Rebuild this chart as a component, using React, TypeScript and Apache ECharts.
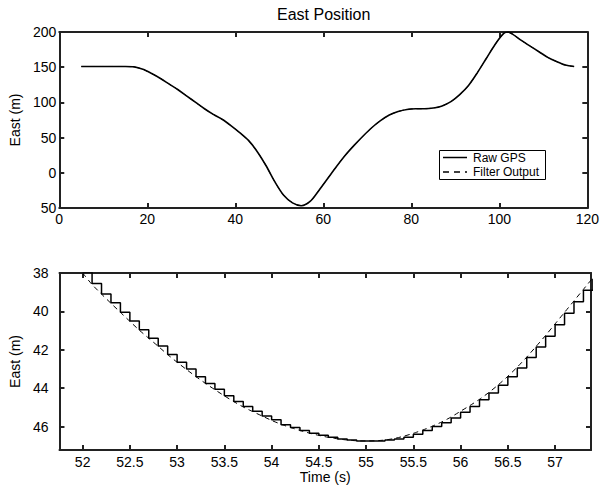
import React, { useEffect, useRef } from "react";
import * as echarts from "echarts";

// ---- Top panel: East position over the whole run ----
const TOP_TIME = [5, 10, 15, 17, 19, 21, 23, 25, 27, 29, 31, 33, 35, 37, 39, 41, 43, 45, 47, 49, 51, 53, 55, 57, 59, 61, 63, 65, 67, 69, 71, 73, 75, 77, 79, 81, 83, 85, 87, 89, 91, 93, 95, 97, 99, 101, 102, 103, 105, 107, 109, 111, 113, 115, 117];
const TOP_RAW = [151, 151, 151, 150.5, 147, 141, 134, 126, 118, 109, 100, 91, 83, 76, 67, 57, 46, 30, 10, -13, -32, -42.7, -46.75, -40.7, -25, -8, 9, 25, 39, 52, 64, 74, 82, 87, 90, 91, 91, 92, 95, 101, 111, 124, 142, 162, 182, 198, 200, 197, 188, 180, 172, 164, 158, 153, 151];
const TOP_FILTER = [151, 151, 151, 150.4, 147, 141, 134, 126, 118, 109, 100, 91, 83, 76, 67, 57, 46, 30, 10, -13, -32, -42.6, -46.7, -40.6, -25, -8, 9, 25, 39, 52, 64, 74, 82, 87, 90, 91, 91, 92, 95, 101, 111, 124, 142, 162, 182, 198, 199.5, 197, 188, 180, 172, 164, 158, 153, 151];

// ---- Bottom panel: zoom on the minimum ----
const ZOOM_TIME = [52.0, 52.1, 52.2, 52.3, 52.4, 52.5, 52.6, 52.7, 52.8, 52.9, 53.0, 53.1, 53.2, 53.3, 53.4, 53.5, 53.6, 53.7, 53.8, 53.9, 54.0, 54.1, 54.2, 54.3, 54.4, 54.5, 54.6, 54.7, 54.8, 54.9, 55.0, 55.1, 55.2, 55.3, 55.4, 55.5, 55.6, 55.7, 55.8, 55.9, 56.0, 56.1, 56.2, 56.3, 56.4, 56.5, 56.6, 56.7, 56.8, 56.9, 57.0, 57.1, 57.2, 57.3, 57.4];
const ZOOM_RAW = [-37.95, -38.55, -39.1, -39.55, -40.05, -40.5, -40.95, -41.4, -41.8, -42.25, -42.65, -43.0, -43.4, -43.75, -44.05, -44.4, -44.7, -44.95, -45.2, -45.45, -45.65, -45.9, -46.05, -46.2, -46.35, -46.45, -46.55, -46.65, -46.7, -46.75, -46.75, -46.75, -46.7, -46.65, -46.55, -46.4, -46.2, -46.0, -45.8, -45.55, -45.25, -44.95, -44.6, -44.25, -43.85, -43.4, -42.95, -42.4, -41.85, -41.3, -40.7, -40.1, -39.5, -38.9, -38.3];
const ZOOM_FILTER = [-38.0, -38.6, -39.1, -39.58, -40.05, -40.52, -40.98, -41.4, -41.82, -42.25, -42.65, -43.03, -43.4, -43.75, -44.08, -44.4, -44.7, -44.98, -45.22, -45.45, -45.68, -45.88, -46.05, -46.2, -46.34, -46.46, -46.56, -46.64, -46.7, -46.74, -46.75, -46.74, -46.7, -46.62, -46.5, -46.35, -46.18, -45.98, -45.76, -45.5, -45.2, -44.9, -44.58, -44.22, -43.82, -43.38, -42.9, -42.38, -41.82, -41.25, -40.65, -40.05, -39.45, -38.85, -38.25];

const ZOOM_X_TICKS = [52, 52.5, 53, 53.5, 54, 54.5, 55, 55.5, 56, 56.5, 57];
const ZOOM_Y_TICKS = [-46, -44, -42, -40, -38];

const FONT = "'Liberation Sans', Arial, Helvetica, sans-serif";
const INK = "#222";

export default function App() {
  const ref = useRef<HTMLDivElement>(null);
  useEffect(() => {
    if (!ref.current) return;
    const chart = echarts.init(ref.current, null, { renderer: "svg" });
    const line = () => ({ show: true, onZero: false, lineStyle: { color: INK, width: 2 } });
    const tick = () => ({ show: true, inside: true, length: 5, lineStyle: { color: INK, width: 2 } });
    const label = () => ({ color: "#000", fontSize: 14, fontFamily: FONT });
    const absFmt = (v: number) => String(Math.abs(v));
    const pair = (xs: number[], ys: number[]) => xs.map((x, i) => [x, ys[i]]);

    chart.setOption({
      animation: false,
      title: {
        text: "East Position",
        left: 277,
        top: 6,
        padding: 0,
        textStyle: { fontSize: 16, fontWeight: "normal", color: "#000", fontFamily: FONT },
      },
      grid: [
        { left: 56, top: 32, width: 535, height: 176 },
        { left: 56, top: 273, width: 535, height: 177 },
      ],
      xAxis: [
        { gridIndex: 0, type: "value", min: 0, max: 120, interval: 20, position: "bottom", axisLine: line(), axisTick: tick(), axisLabel: { ...label(), margin: 4 }, splitLine: { show: false } },
        { gridIndex: 0, type: "value", min: 0, max: 120, interval: 20, position: "top", axisLine: line(), axisTick: tick(), axisLabel: { show: false }, splitLine: { show: false } },
        {
          gridIndex: 1, type: "value", min: 51.755, max: 57.38, position: "bottom",
          axisLine: line(), axisTick: { ...tick(), customValues: ZOOM_X_TICKS },
          axisLabel: { ...label(), margin: 5, customValues: ZOOM_X_TICKS },
          splitLine: { show: false },
          name: "Time (s)", nameLocation: "middle", nameGap: 7,
          nameTextStyle: { color: "#000", fontSize: 14, fontFamily: FONT },
        },
        { gridIndex: 1, type: "value", min: 51.755, max: 57.38, position: "top", axisLine: line(), axisTick: { ...tick(), customValues: ZOOM_X_TICKS }, axisLabel: { show: false }, splitLine: { show: false } },
      ],
      yAxis: [
        {
          gridIndex: 0, type: "value", min: -50, max: 200, interval: 50, position: "left",
          axisLine: line(), axisTick: tick(), axisLabel: { ...label(), margin: 3, formatter: absFmt },
          splitLine: { show: false },
          name: "East (m)", nameLocation: "middle", nameGap: 34,
          nameTextStyle: { color: "#000", fontSize: 14, fontFamily: FONT },
        },
        { gridIndex: 0, type: "value", min: -50, max: 200, interval: 50, position: "right", axisLine: line(), axisTick: tick(), axisLabel: { show: false }, splitLine: { show: false } },
        {
          gridIndex: 1, type: "value", min: -47.22, max: -38, position: "left",
          axisLine: line(), axisTick: { ...tick(), customValues: ZOOM_Y_TICKS },
          axisLabel: { ...label(), margin: 11, formatter: absFmt, customValues: ZOOM_Y_TICKS },
          splitLine: { show: false },
          name: "East (m)", nameLocation: "middle", nameGap: 33,
          nameTextStyle: { color: "#000", fontSize: 14, fontFamily: FONT },
        },
        { gridIndex: 1, type: "value", min: -47.22, max: -38, position: "right", axisLine: line(), axisTick: { ...tick(), customValues: ZOOM_Y_TICKS }, axisLabel: { show: false }, splitLine: { show: false } },
      ],
      series: [
        { type: "line", name: "Raw GPS", xAxisIndex: 0, yAxisIndex: 0, data: pair(TOP_TIME, TOP_RAW), symbol: "none", smooth: 0.3, lineStyle: { color: "#000", width: 1.6 } },
        { type: "line", name: "Filter Output", xAxisIndex: 0, yAxisIndex: 0, data: pair(TOP_TIME, TOP_FILTER), symbol: "none", smooth: 0.3, lineStyle: { color: "#000", width: 1, type: [5, 4] } },
        { type: "line", name: "Raw GPS", xAxisIndex: 2, yAxisIndex: 2, data: pair(ZOOM_TIME, ZOOM_RAW), symbol: "none", step: "end", lineStyle: { color: "#000", width: 1.5 } },
        { type: "line", name: "Filter Output", xAxisIndex: 2, yAxisIndex: 2, data: pair(ZOOM_TIME, ZOOM_FILTER), symbol: "none", smooth: 0.2, lineStyle: { color: "#000", width: 1, type: [5, 4] } },
      ],
      graphic: [
        { type: "rect", shape: { x: 439.5, y: 150.5, width: 106, height: 29 }, style: { fill: "#fff", stroke: "#000", lineWidth: 1 }, z: 10 },
        { type: "line", shape: { x1: 443, y1: 157.5, x2: 467, y2: 157.5 }, style: { stroke: "#000", lineWidth: 1.5 }, z: 11 },
        { type: "line", shape: { x1: 443, y1: 172, x2: 467, y2: 172 }, style: { stroke: "#000", lineWidth: 1.5, lineDash: [6, 5] }, z: 11 },
        { type: "text", x: 473, y: 157.5, style: { text: "Raw GPS", fill: "#000", font: `12px ${FONT}`, textVerticalAlign: "middle", verticalAlign: "middle" }, z: 11 },
        { type: "text", x: 473, y: 172, style: { text: "Filter Output", fill: "#000", font: `12px ${FONT}`, textVerticalAlign: "middle", verticalAlign: "middle" }, z: 11 },
      ],
    });
    return () => chart.dispose();
  }, []);
  return <div ref={ref} style={{ position: "fixed", left: 0, top: 0, width: 602, height: 489, background: "#fff" }} />;
}
